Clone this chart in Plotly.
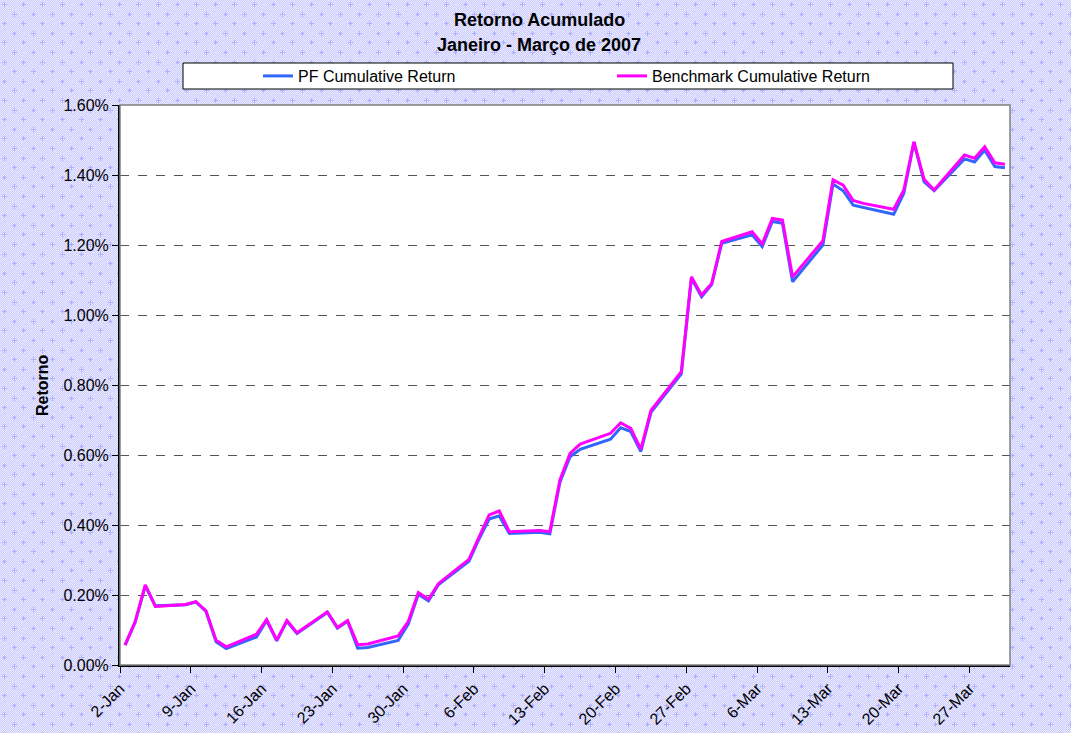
import base64
import struct
import zlib

import pandas as pd
import plotly.graph_objects as go

# ---------------- data ----------------
dates = [
    "2007-01-02", "2007-01-03", "2007-01-04", "2007-01-05", "2007-01-08", "2007-01-09",
    "2007-01-10", "2007-01-11", "2007-01-12", "2007-01-15", "2007-01-16", "2007-01-17",
    "2007-01-18", "2007-01-19", "2007-01-22", "2007-01-23", "2007-01-24", "2007-01-25",
    "2007-01-26", "2007-01-29", "2007-01-30", "2007-01-31",
    "2007-02-01", "2007-02-02", "2007-02-05", "2007-02-06", "2007-02-07", "2007-02-08",
    "2007-02-09", "2007-02-12", "2007-02-13", "2007-02-14", "2007-02-15", "2007-02-16",
    "2007-02-19", "2007-02-20", "2007-02-21", "2007-02-22", "2007-02-23", "2007-02-26",
    "2007-02-27", "2007-02-28",
    "2007-03-01", "2007-03-02", "2007-03-05", "2007-03-06", "2007-03-07", "2007-03-08",
    "2007-03-09", "2007-03-12", "2007-03-13", "2007-03-14", "2007-03-15", "2007-03-16",
    "2007-03-19", "2007-03-20", "2007-03-21", "2007-03-22", "2007-03-23", "2007-03-26",
    "2007-03-27", "2007-03-28", "2007-03-29", "2007-03-30",
]

pf_return = [
    0.057, 0.122, 0.226, 0.169, 0.172, 0.180, 0.153, 0.066, 0.047, 0.080, 0.127, 0.069,
    0.125, 0.090, 0.150, 0.105, 0.125, 0.048, 0.050, 0.070, 0.117, 0.202,
    0.183, 0.230, 0.296, 0.360, 0.417, 0.426, 0.376, 0.379, 0.375, 0.522, 0.595, 0.616,
    0.645, 0.678, 0.667, 0.610, 0.722, 0.832, 1.105, 1.052,
    1.087, 1.205, 1.229, 1.195, 1.267, 1.262, 1.095, 1.200, 1.374, 1.355, 1.314, 1.307,
    1.288, 1.348, 1.493, 1.381, 1.355, 1.446, 1.437, 1.471, 1.424, 1.421,
]

bench_return = [
    0.057, 0.124, 0.229, 0.167, 0.173, 0.181, 0.155, 0.071, 0.052, 0.088, 0.130, 0.071,
    0.127, 0.092, 0.152, 0.107, 0.127, 0.058, 0.060, 0.083, 0.124, 0.207,
    0.188, 0.233, 0.302, 0.367, 0.429, 0.440, 0.381, 0.384, 0.381, 0.529, 0.605, 0.631,
    0.662, 0.692, 0.676, 0.617, 0.727, 0.838, 1.109, 1.057,
    1.090, 1.210, 1.238, 1.203, 1.276, 1.271, 1.109, 1.212, 1.386, 1.371, 1.327, 1.319,
    1.302, 1.357, 1.495, 1.388, 1.357, 1.457, 1.448, 1.481, 1.435, 1.431,
]

series_names = ["PF Cumulative Return", "Benchmark Cumulative Return"]
title_lines = ["Retorno Acumulado", "Janeiro - Março de 2007"]
y_title = "Retorno"

# ---------------- layout geometry ----------------
W, H = 1071, 733
L, R, T, B = 120, 61, 105, 68
PW, PH = W - L - R, H - T - B

FONT = "Liberation Sans, Arial, sans-serif"


def px_x(p):
    return (p - L) / PW


def px_y(p):
    return (H - B - p) / PH


def make_pattern():
    c1 = bytes((236, 236, 255))
    c2 = bytes((202, 202, 255))
    plus = bytes((176, 176, 255))
    rowA = bytearray((c1 + c2) * ((W + 1) // 2))[: W * 3]
    rowB = bytearray((c2 + c1) * ((W + 1) // 2))[: W * 3]
    rows = [bytearray(rowA if y % 2 == 0 else rowB) for y in range(H)]

    def setpx(x, y):
        if 0 <= x < W and 0 <= y < H:
            rows[y][3 * x:3 * x + 3] = plus

    k = 0
    cy = 4.0
    while cy < H + 5:
        cx = 4.0 + (0 if k % 2 == 0 else 9.6)
        while cx < W + 5:
            ix, iy = int(round(cx)), int(round(cy))
            for d in range(-2, 3):
                setpx(ix + d, iy)
                setpx(ix, iy + d)
            cx += 19.2
        cy += 9.6
        k += 1
    raw = b"".join(b"\x00" + bytes(r) for r in rows)

    def chunk(tag, data):
        c = struct.pack(">I", len(data)) + tag + data
        return c + struct.pack(">I", zlib.crc32(tag + data) & 0xFFFFFFFF)

    png = (b"\x89PNG\r\n\x1a\n"
           + chunk(b"IHDR", struct.pack(">IIBBBBB", W, H, 8, 2, 0, 0, 0))
           + chunk(b"IDAT", zlib.compress(raw, 9))
           + chunk(b"IEND", b""))
    return "data:image/png;base64," + base64.b64encode(png).decode()


x_vals = pd.to_datetime(dates) + pd.Timedelta(hours=12)

fig = go.Figure()
fig.add_trace(go.Scatter(
    x=x_vals, y=pf_return, mode="lines", name=series_names[0],
    line=dict(color="#3366FF", width=3), legend="legend",
))
fig.add_trace(go.Scatter(
    x=x_vals, y=bench_return, mode="lines", name=series_names[1],
    line=dict(color="#FF00FF", width=3), legend="legend2",
))

legend_common = dict(
    orientation="h", yanchor="middle", xanchor="left",
    bgcolor="rgba(0,0,0,0)", borderwidth=0,
    font=dict(family=FONT, size=16, color="black"),
)

fig.update_layout(
    width=W, height=H,
    margin=dict(l=L, r=R, t=T, b=B, autoexpand=False),
    paper_bgcolor="#DCDCFF",
    plot_bgcolor="rgba(0,0,0,0)",
    font=dict(family=FONT, size=16, color="black"),
    showlegend=True,
    legend=dict(x=px_x(258), y=px_y(76), **legend_common),
    legend2=dict(x=px_x(612), y=px_y(76), **legend_common),
    images=[dict(
        source=make_pattern(), xref="paper", yref="paper",
        x=-L / PW, y=1 + T / PH, sizex=W / PW, sizey=H / PH,
        xanchor="left", yanchor="top", sizing="stretch", layer="below",
    )],
    shapes=[
        dict(type="rect", xref="paper", yref="paper", x0=0, x1=1, y0=0, y1=1,
             fillcolor="white", line=dict(width=0), layer="below"),
        dict(type="rect", xref="paper", yref="paper", x0=0, x1=1, y0=0, y1=1,
             fillcolor="rgba(0,0,0,0)", line=dict(color="#808080", width=1.5), layer="above"),
        dict(type="rect", xref="paper", yref="paper",
             x0=px_x(183), x1=px_x(953), y0=px_y(89), y1=px_y(63),
             fillcolor="white", line=dict(color="black", width=1), layer="below"),
    ],
    annotations=[
        dict(text="<b>%s</b>" % title_lines[0], xref="paper", yref="paper",
             x=px_x(539), y=px_y(20), xanchor="center", yanchor="middle",
             showarrow=False, font=dict(family=FONT, size=18, color="black")),
        dict(text="<b>%s</b>" % title_lines[1], xref="paper", yref="paper",
             x=px_x(539), y=px_y(45), xanchor="center", yanchor="middle",
             showarrow=False, font=dict(family=FONT, size=18, color="black")),
        dict(text="<b>%s</b>" % y_title, xref="paper", yref="paper",
             x=px_x(42), y=0.5, xanchor="center", yanchor="middle", textangle=-90,
             showarrow=False, font=dict(family=FONT, size=16, color="black")),
    ],
)

fig.update_xaxes(
    type="date",
    range=["2007-01-02", "2007-03-31"],
    tick0="2007-01-02", dtick=7 * 86400000,
    tickformat="%-d-%b", tickangle=-45,
    ticks="outside", ticklen=6, tickcolor="black", tickwidth=1,
    showline=True, linecolor="black", linewidth=2,
    showgrid=False, zeroline=False,
    tickfont=dict(family=FONT, size=16, color="black"),
)
fig.update_yaxes(
    range=[0, 1.6], dtick=0.2, tick0=0,
    tickformat=".2f", ticksuffix="%",
    ticks="outside", ticklen=6, tickcolor="black", tickwidth=1,
    showline=True, linecolor="black", linewidth=2,
    showgrid=True, gridcolor="#555555", griddash="dash", gridwidth=1,
    zeroline=False,
    tickfont=dict(family=FONT, size=16, color="black"),
)

fig.write_html(
    "out.html",
    config={"displayModeBar": False},
    post_script="document.body.style.margin='0';document.body.style.overflow='hidden';",
)
